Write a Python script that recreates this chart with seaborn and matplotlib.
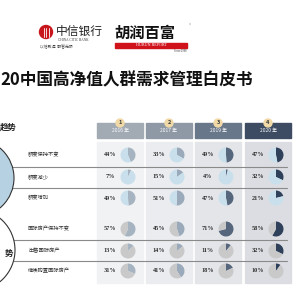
import matplotlib
matplotlib.use("Agg")
import matplotlib.pyplot as plt
from matplotlib.patches import Circle, Rectangle
import numpy as np
import pandas as pd
import seaborn as sns

# data
years = ["2016 年", "2017 年", "2019 年", "2020 年"]
items = ["额度保持不变", "额度减少", "额度增加",
         "国际房产保持不变", "出售国际房产", "继续购置国际房产"]
share_2016 = [44, 7, 49, 57, 13, 31]
share_2017 = [33, 15, 51, 45, 14, 41]
share_2019 = [49, 4, 47, 71, 11, 18]
share_2020 = [47, 32, 21, 58, 32, 10]

df = pd.DataFrame({"item": items, years[0]: share_2016, years[1]: share_2017,
                   years[2]: share_2019, years[3]: share_2020})

sns.set_theme(style="white")
plt.rcParams["font.family"] = ["Noto Sans CJK SC", "DejaVu Sans"]

head_colors = ["#a2aab4", "#8f99a6", "#69778a", "#3e4c63"]
col_bg = ["#f1f2f4", "#ebecef", "#e4e5e9", "#dcdde2"]
wedge_colors = ["#a6b4c1", "#9aaaba", "#56667c", "#2f405b"]
pie_bg_top = "#c9e0ec"
pie_bg_bottom = "#c9c9c9"

fig = plt.figure(figsize=(3, 3), dpi=100)
ax = fig.add_axes([0, 0, 1, 1])

# logos
ax.add_patch(Circle((46, 32), 6.5, color="#c8161d", zorder=3))
for dx in (-2.5, 0, 2.5):
    ax.plot([46 + dx, 46 + dx], [28, 36.5], color="white", lw=0.6, zorder=4)
ax.text(56, 31.5, "中信银行", fontsize=8.5, ha="left", va="center", color="#222")
ax.text(58, 40, "CHINA CITIC BANK", fontsize=2.4, ha="left", va="center",
        color="#333", family="Liberation Serif")
ax.text(40, 47.5, "以信致远  融智无限", fontsize=2.8, ha="left", va="center", color="#444")
ax.text(114, 32.5, "胡润百富", fontsize=11, ha="left", va="center",
        color="#111", fontweight="bold")
ax.text(190, 25, "®", fontsize=3, ha="center", va="center", color="#333")
ax.add_patch(Rectangle((115, 42.5), 72, 5.5, color="#d0121b", zorder=3))
ax.text(151, 45.2, "HURUN REPORT", fontsize=3, ha="center", va="center",
        color="white", family="Liberation Serif", zorder=4)
ax.text(180, 51.5, "Since 1998", fontsize=1.8, ha="center", va="center", color="#333")

# title and section heading, as far as the crop shows them
ax.text(0, 80, "20中国高净值人群需求管理白皮书", fontsize=12, ha="left",
        va="center", color="#111", fontweight="bold")
ax.text(0, 127, "趋势", fontsize=6, ha="left", va="center",
        color="#222", fontweight="bold")

# left circles
ax.add_patch(Circle((-25, 178), 39, facecolor="#b6d1e2", edgecolor="#333",
                    lw=0.8, zorder=3))
ax.add_patch(Circle((-26, 250), 41, facecolor="white", edgecolor="#333",
                    lw=0.8, zorder=3))
ax.text(9, 253, "势", fontsize=6, ha="center", va="center", color="#222",
        fontweight="bold", zorder=4)

col_x = [97, 146, 195, 245]
col_w = 46
row_y = [155, 177, 198, 229, 251, 271]

for i, year in enumerate(years):
    x0 = col_x[i]
    ax.add_patch(Rectangle((x0, 142), col_w, 141, color=col_bg[i], zorder=1))
    ax.add_patch(Rectangle((x0, 123), col_w, 15, color=head_colors[i], zorder=1))
    ax.text(x0 + col_w / 2, 131, year, fontsize=3.5, ha="center", va="center",
            color="white", zorder=2)
    ax.add_patch(Circle((x0 + col_w / 2, 123), 4, color="#f0d9a6", zorder=3))
    ax.text(x0 + col_w / 2, 123, str(i + 1), fontsize=4, ha="center", va="center",
            color="#3a3a3a", fontweight="bold", zorder=4)
    for j, val in enumerate(df[year]):
        y = row_y[j]
        bg = pie_bg_top if j < 3 else pie_bg_bottom
        ax.text(x0 + 13, y, f"{val}%", fontsize=4.5, ha="center", va="center",
                color="#333", family="Liberation Serif", fontweight="bold", zorder=2)
        ax.pie([val, 100 - val], colors=[wedge_colors[i], bg], center=(x0 + 31, y),
               radius=7.5, startangle=-90, counterclock=True, frame=True,
               wedgeprops={"linewidth": 0, "zorder": 2})

for j, item in enumerate(items):
    ax.text(28, row_y[j], item, fontsize=3.8, ha="left", va="center", color="#333", zorder=2)

for y in (167, 188, 240, 261):
    ax.plot([0, 287], [y, y], color="#8a8a8a", lw=0.8, zorder=2.5)

ax.set_xlim(0, 300)
ax.set_ylim(300, 0)
ax.set_aspect("auto")
ax.axis("off")

fig.savefig("out.png", dpi=100, facecolor="white")
